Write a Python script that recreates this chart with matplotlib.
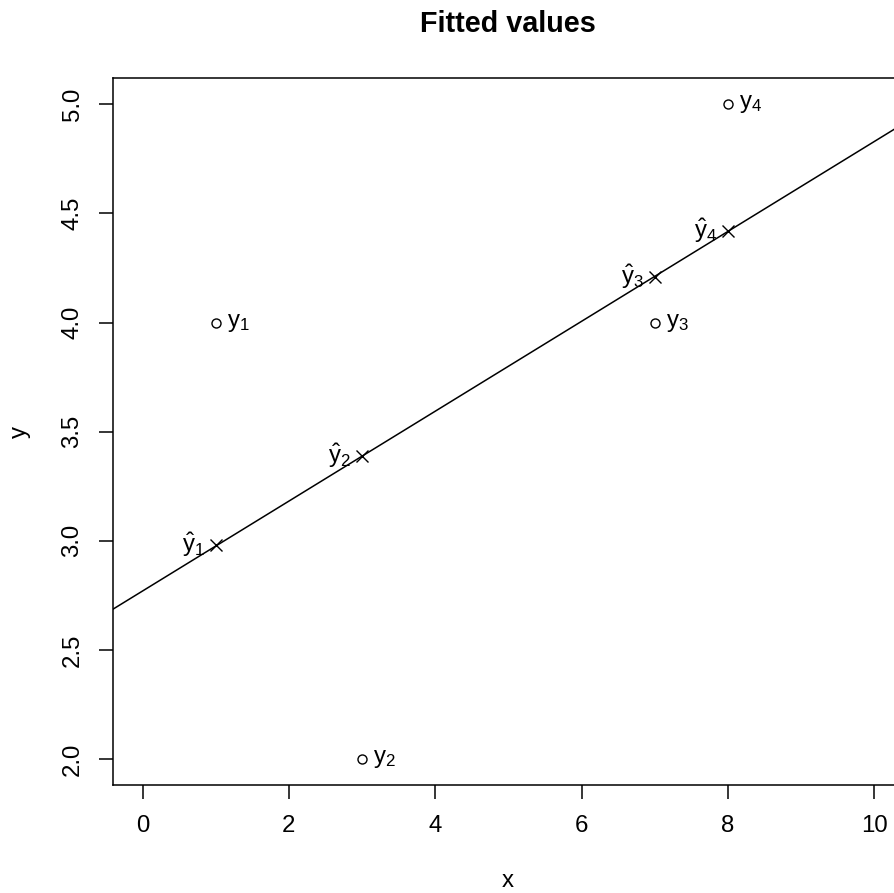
import matplotlib
matplotlib.use("Agg")
import matplotlib.pyplot as plt
import numpy as np

# data
x_vals = [1, 3, 7, 8]
y_vals = [4, 2, 4, 5]
fitted = [2.98, 3.39, 4.21, 4.42]
intercept = 2.77
slope = 0.206
x_ticks = [0, 2, 4, 6, 8, 10]
y_ticks = [2.0, 2.5, 3.0, 3.5, 4.0, 4.5, 5.0]

plt.rcParams['font.family'] = 'Liberation Sans'
plt.rcParams['mathtext.fontset'] = 'custom'
plt.rcParams['mathtext.rm'] = 'Liberation Sans'
plt.rcParams['mathtext.it'] = 'Liberation Sans'

W, H = 894, 893
fig = plt.figure(figsize=(W / 100, H / 100), dpi=100)

# plot box: left 113.3px, right ~903.6px (cropped), top 78px, bottom 785px
left, right, top, bottom = 113.3, 903.6, 78.2, 785.2
ax = fig.add_axes([left / W, 1 - bottom / H, (right - left) / W, (bottom - top) / H])

ax.set_xlim(-0.4, 10.4)
ax.set_ylim(1.88, 5.12)

# regression line
xs = np.array([-1, 11])
ax.plot(xs, intercept + slope * xs, color='black', lw=1.1)

# observed points
ax.plot(x_vals, y_vals, linestyle='none', marker='o', markersize=6.5,
        markerfacecolor='none', markeredgecolor='black', markeredgewidth=1.0)
# fitted points
ax.plot(x_vals, fitted, linestyle='none', marker='x', markersize=8.5,
        color='black', markeredgewidth=1.0)

fs = 17.3
for i, (xv, yv) in enumerate(zip(x_vals, y_vals)):
    ax.annotate(r'$\mathrm{y}_{%d}$' % (i + 1), (xv, yv), xytext=(8, 0),
                textcoords='offset points', ha='left', va='center', fontsize=fs)
for i, (xv, fv) in enumerate(zip(x_vals, fitted)):
    ax.annotate(r'$\hat{\mathrm{y}}_{%d}$' % (i + 1), (xv, fv), xytext=(-8, 0),
                textcoords='offset points', ha='right', va='center', fontsize=fs)

ax.set_xticks(x_ticks)
ax.set_xticklabels([str(t) for t in x_ticks])
ax.set_yticks(y_ticks)
ax.set_yticklabels(['%.1f' % t for t in y_ticks], rotation=90, va='center')
ax.tick_params(axis='both', length=10.4, width=1.1, labelsize=fs, direction='out')
ax.tick_params(axis='x', pad=11)
ax.tick_params(axis='y', pad=11)

for s in ax.spines.values():
    s.set_linewidth(1.1)

fig.text(507.5 / W, 1 - 32 / H, 'Fitted values', ha='center', va='baseline',
         fontsize=20.7, fontweight='bold')
fig.text(508 / W, 1 - 887 / H, 'x', ha='center', va='baseline', fontsize=fs)
fig.text(20 / W, 1 - 431.7 / H, 'y', ha='center', va='center', rotation=90, fontsize=fs)

fig.savefig('out.png', dpi=100)
